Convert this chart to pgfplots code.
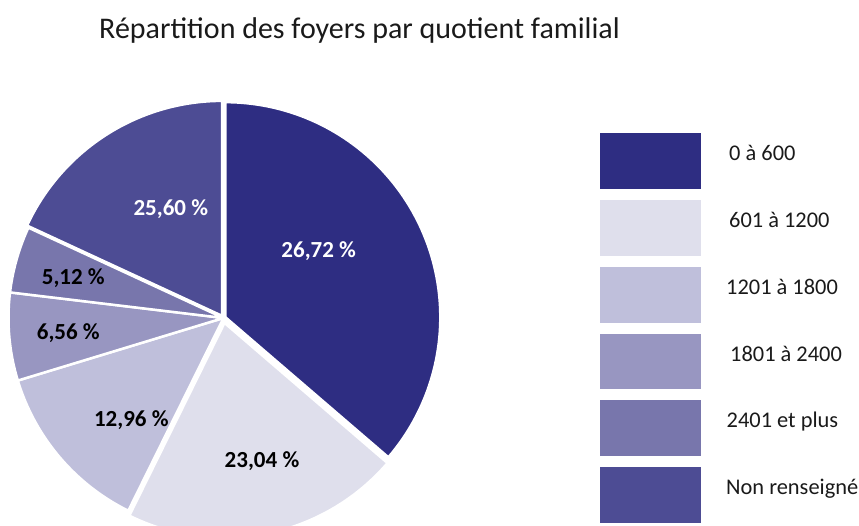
\documentclass[border=0pt]{standalone}
\usepackage{pgfplots}
\pgfplotsset{compat=1.18}
\usepackage{fontspec}
\setmainfont{Carlito}
\definecolor{c1}{HTML}{2E2D82}
\definecolor{c2}{HTML}{DFDFEC}
\definecolor{c3}{HTML}{BFBFDB}
\definecolor{c4}{HTML}{9896C1}
\definecolor{c5}{HTML}{7876AC}
\definecolor{c6}{HTML}{4D4C94}
\definecolor{txt}{HTML}{1A1A1A}
\def\cx{223.5}\def\cy{207}\def\r{215}
\gdef\astart{90}
% #1 share of the circle (%), #2 colour, #3 explode offset
\newcommand\slice[3]{%
  \pgfmathsetmacro\aend{\astart-#1*3.6}%
  \pgfmathsetmacro\amid{(\astart+\aend)/2}%
  \pgfmathsetmacro\ox{\cx+#3*cos(\amid)}%
  \pgfmathsetmacro\oy{\cy+#3*sin(\amid)}%
  \edef\temp{\noexpand\addplot[fill=#2, draw=white, line width=2.5pt, line join=round,
    domain=\aend:\astart, samples=90, variable=\noexpand\t]
    ({\ox+\r*cos(\noexpand\t)},{\oy+\r*sin(\noexpand\t)}) -- (axis cs:\ox,\oy) -- cycle;}%
  \temp
  \global\let\astart\aend}
\newcommand\legbox[3]{% y top, y bottom, colour
  \addplot[fill=#3, draw=none] coordinates {(600,#1) (701,#1) (701,#2) (600,#2)} -- cycle;}
\begin{document}
\begin{tikzpicture}
\begin{axis}[at={(0,0)}, anchor=south west, width=859pt, height=525pt, scale only axis,
  xmin=0, xmax=859, ymin=0, ymax=525, hide axis, clip=true]
% slices, clockwise from 12 o'clock (share of the circle as drawn)
\slice{36.3}{c1}{2}
\slice{21.0}{c2}{5}
\slice{13.0}{c3}{0}
\slice{6.6}{c4}{0}
\slice{5.0}{c5}{0}
\slice{18.1}{c6}{2.5}
% legend boxes
\legbox{391.7}{336.0}{c1}
\legbox{324.9}{269.2}{c2}
\legbox{258.1}{202.4}{c3}
\legbox{191.3}{135.6}{c4}
\legbox{124.5}{68.8}{c5}
\legbox{57.7}{2.0}{c6}
\end{axis}
% title
\node[anchor=base, font=\fontsize{30}{36}\selectfont, text=txt, inner sep=0pt] at (359.5pt,486pt) {Répartition des foyers par quotient familial};
% slice labels
\begin{scope}[every node/.style={anchor=base, inner sep=0pt, font=\fontsize{23}{27}\selectfont\bfseries}]
\node[text=white] at (318.7pt,267.3pt) {26,72 \%};
\node[text=black] at (262pt,58pt) {23,04 \%};
\node[text=black] at (131.3pt,98.3pt) {12,96 \%};
\node[text=black] at (68.3pt,185.7pt) {6,56 \%};
\node[text=black] at (73.3pt,240.7pt) {5,12 \%};
\node[text=white] at (170.8pt,309.7pt) {25,60 \%};
\end{scope}
% legend texts
\begin{scope}[every node/.style={anchor=base west, inner sep=0pt, text=txt, font=\fontsize{22.4}{26}\selectfont}]
\node at (729pt,364.3pt) {0 à 600};
\node at (729pt,297.5pt) {601 à 1200};
\node at (726pt,230.7pt) {1201 à 1800};
\node at (730pt,163.9pt) {1801 à 2400};
\node at (726.5pt,97.1pt) {2401 et plus};
\node at (726pt,30.3pt) {Non renseigné};
\end{scope}
\pgfresetboundingbox
\path (0,0) rectangle (859pt,525pt);
\end{tikzpicture}
\end{document}
